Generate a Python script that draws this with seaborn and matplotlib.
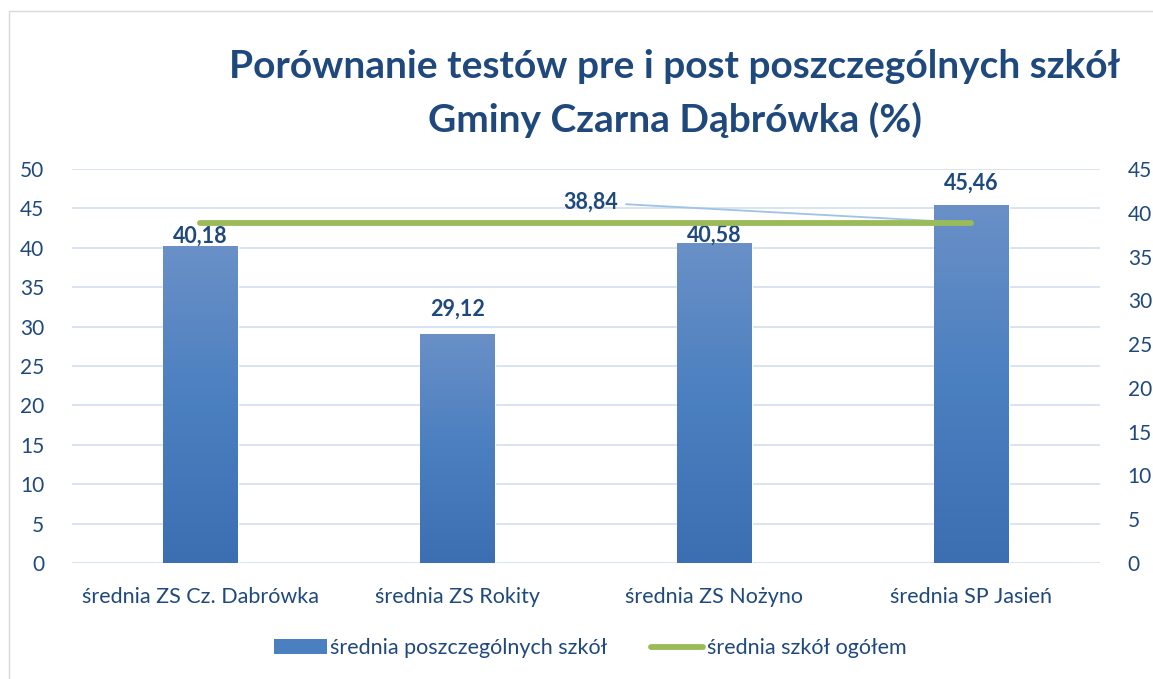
import numpy as np
import pandas as pd
import matplotlib
matplotlib.use("Agg")
import matplotlib.pyplot as plt
import seaborn as sns
from matplotlib.patches import Rectangle
from matplotlib.lines import Line2D
from matplotlib.colors import LinearSegmentedColormap

# data
schools = ["średnia ZS Cz. Dabrówka", "średnia ZS Rokity", "średnia ZS Nożyno", "średnia SP Jasień"]
school_avg = [40.18, 29.12, 40.58, 45.46]
overall_avg = [38.84, 38.84, 38.84, 38.84]
series_names = ["średnia poszczególnych szkół", "średnia szkół ogółem"]
title = "Porównanie testów pre i post poszczególnych szkół\nGminy Czarna Dąbrówka (%)"

# gap (px) between bar top and its label, labels near the line sit lower
label_gap = [4, 18, 2, 15]

sns.set_theme(style="white")
plt.rcParams["font.family"] = ["Lato", "DejaVu Sans"]

txt = "#1f497d"
grid_c = "#d6e1f0"
green = "#9bbb59"

fig = plt.figure(figsize=(11.53, 6.79), dpi=100)
ax = fig.add_axes([0.0624, 0.1708, 0.8916, 0.5802])

df = pd.DataFrame({"school": schools, "value": school_avg})
sns.barplot(data=df, x="school", y="value", color="#4f81bd", width=0.29,
            saturation=1, ax=ax, zorder=2)

# gradient fill inside each bar
cmap = LinearSegmentedColormap.from_list("g", ["#3c6fb2", "#4a7fc0", "#6a90c7"])
grad = np.linspace(0, 1, 256).reshape(-1, 1)
for p in ax.patches:
    x0, y0 = p.get_x(), p.get_y()
    w, h = p.get_width(), p.get_height()
    im = ax.imshow(grad, cmap=cmap, origin="lower", aspect="auto",
                   extent=[x0, x0 + w, y0, y0 + h], zorder=3)
    im.set_clip_path(p)

ax.set_xlim(-0.5, 3.5)
ax.set_ylim(0, 50)
ax.set_yticks(range(0, 51, 5))
ax.yaxis.grid(True, color=grid_c, lw=1.3, zorder=0)
ax.set_axisbelow(True)
for s in ax.spines.values():
    s.set_visible(False)
ax.set_xlabel("")
ax.set_ylabel("")
ax.tick_params(axis="y", length=0, pad=20, labelsize=15, labelcolor=txt)
ax.tick_params(axis="x", length=0, pad=17, labelsize=15.5, labelcolor=txt)

for i, v in enumerate(school_avg):
    ax.annotate(f"{v:.2f}".replace(".", ","), xy=(i, v),
                xytext=(0, label_gap[i]), textcoords="offset pixels",
                ha="center", va="baseline", fontsize=15.5, fontweight="bold",
                color=txt, zorder=5)

ax2 = ax.twinx()
sns.lineplot(x=np.arange(len(schools)), y=overall_avg, color=green, lw=4.2,
             ax=ax2, solid_capstyle="round", zorder=4)
ax2.set_ylim(0, 45)
ax2.set_yticks(range(0, 46, 5))
for s in ax2.spines.values():
    s.set_visible(False)
ax2.tick_params(axis="y", length=0, pad=20, labelsize=15, labelcolor=txt)
ax2.set_xlim(-0.5, 3.5)

ax2.annotate(f"{overall_avg[-1]:.2f}".replace(".", ","), xy=(3, overall_avg[-1]),
             xytext=(1.52, 41.2), textcoords="data", ha="center", va="center",
             fontsize=15.5, fontweight="bold", color=txt,
             arrowprops=dict(arrowstyle="-", color="#9dc3e6", lw=1.3,
                             shrinkA=3, shrinkB=0))

fig.text(0.585, 0.862, title, ha="center", va="center", fontsize=28,
         fontweight="bold", color=txt, linespacing=1.6)

handles = [Rectangle((0, 0), 1, 1, facecolor="#4a7fc0", edgecolor="none"),
           Line2D([0], [0], color=green, lw=4.2, solid_capstyle="round")]
fig.legend(handles, series_names, loc="center", bbox_to_anchor=(0.512, 0.045),
           ncol=2, frameon=False, fontsize=15.5, labelcolor=txt,
           handlelength=2.45, handletextpad=0.15, columnspacing=2.0)

fig.patches.append(Rectangle((9 / 1153, -0.1), 1.2, 1.1 - 11 / 679, fill=False,
                             edgecolor="#d9d9d9", lw=1, transform=fig.transFigure,
                             figure=fig))

fig.savefig("out.png", dpi=100)
